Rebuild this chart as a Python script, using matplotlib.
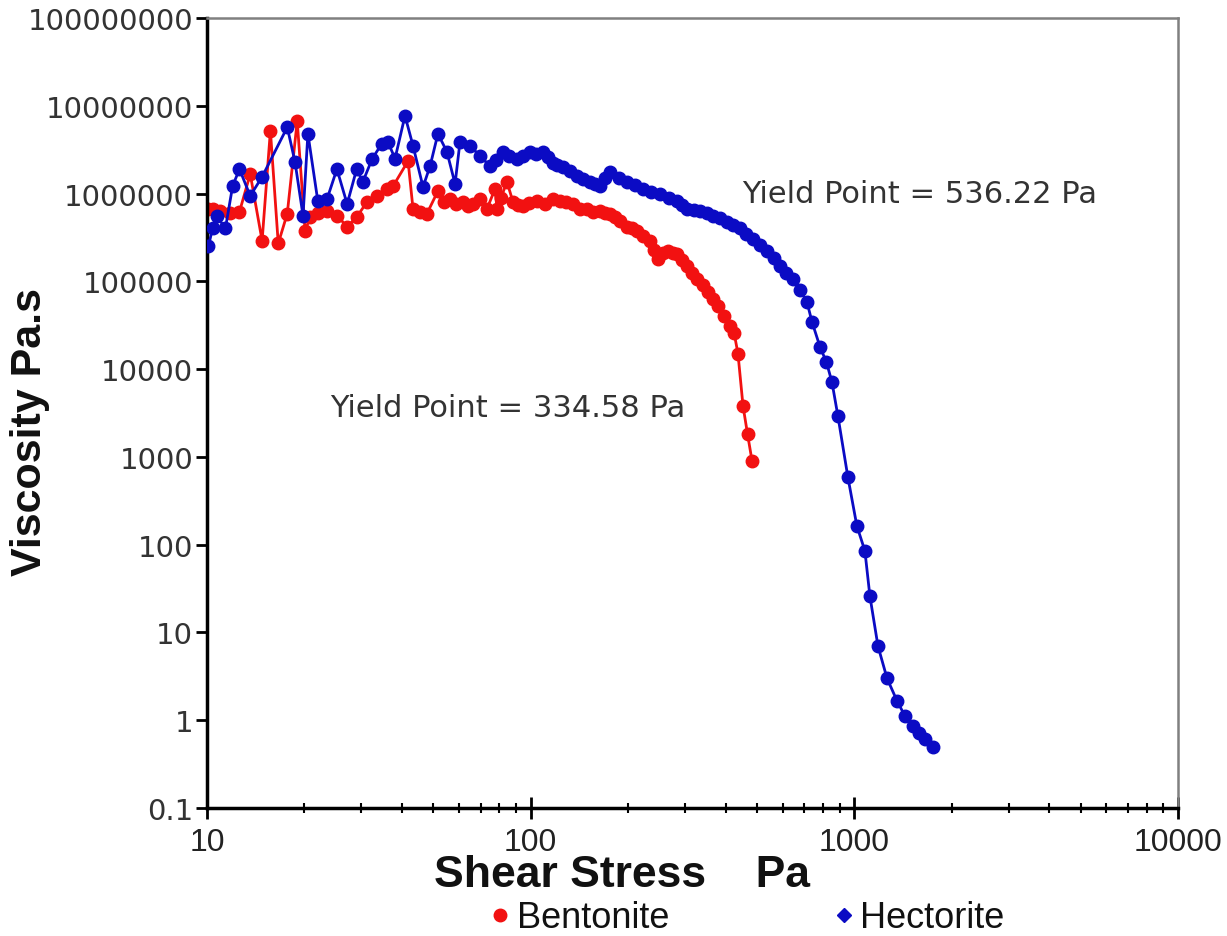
import matplotlib
matplotlib.use('Agg')
import matplotlib.pyplot as plt
from matplotlib.lines import Line2D
from matplotlib.ticker import FixedLocator, LogLocator, NullFormatter, NullLocator

# Bentonite, shear stress (Pa) and viscosity (Pa.s)
bent_x = [10.1, 10.4, 11.0, 11.8, 12.6, 13.6, 14.8, 15.7, 16.6, 17.7, 19.0, 20.1, 20.8,
          22.0, 23.5, 25.2, 27.1, 29.0, 31.2, 33.5, 36.0, 37.6, 41.8, 43.3, 45.5, 47.8, 51.7,
          54.0, 56.3, 59.0, 61.8, 64.0, 66.3, 69.7, 73.3, 77.6, 78.7, 81.0, 84.5, 88.2, 91.5,
          94.7, 99.0, 104.5, 111, 117, 123, 129, 135, 142, 149, 156, 164, 170, 176, 182,
          189, 199, 206, 213, 222, 234, 241, 247, 257, 266, 275, 283, 293, 304, 315, 327,
          340, 353, 366, 379, 395, 413, 425, 437, 453, 468, 483]
bent_y = [6.7e5, 6.7e5, 6.3e5, 6.0e5, 6.2e5, 1.67e6, 2.9e5, 5.2e6, 2.7e5, 5.9e5, 6.7e6, 3.7e5, 5.4e5,
          6.0e5, 6.3e5, 5.6e5, 4.2e5, 5.4e5, 8.0e5, 9.4e5, 1.13e6, 1.22e6, 2.35e6, 6.7e5, 6.2e5, 5.9e5, 1.07e6,
          8.0e5, 8.7e5, 7.6e5, 8.0e5, 7.3e5, 7.6e5, 8.7e5, 6.7e5, 1.13e6, 6.7e5, 9.0e5, 1.36e6, 8.0e5, 7.5e5,
          7.2e5, 7.8e5, 8.2e5, 7.6e5, 8.7e5, 8.2e5, 8.0e5, 7.6e5, 6.7e5, 6.7e5, 6.2e5, 6.3e5, 6.0e5, 5.9e5, 5.4e5,
          4.9e5, 4.2e5, 4.0e5, 3.7e5, 3.3e5, 2.9e5, 2.3e5, 1.8e5, 2.1e5, 2.2e5, 2.1e5, 2.05e5, 1.75e5, 1.5e5, 1.25e5, 1.06e5,
          9.0e4, 7.6e4, 6.3e4, 5.2e4, 4.0e4, 3.1e4, 2.6e4, 1.5e4, 3.8e3, 1.8e3, 900]

# Hectorite
hect_x = [10.1, 10.4, 10.7, 11.4, 12.0, 12.6, 13.6, 14.8, 17.7, 18.7, 19.8, 20.5,
          22.0, 23.5, 25.2, 27.1, 29.0, 30.3, 32.4, 34.7, 36.2, 38.1, 40.9, 43.3,
          46.5, 48.9, 51.7, 55.1, 58.4, 60.5, 64.9, 69.7, 74.8, 78.0, 82.1, 86.0, 90.8, 95.0,
          99.5, 104, 109, 113, 117, 121, 126, 132, 139, 145, 152, 158, 164, 170, 176, 187,
          198, 210, 222, 236, 251, 267, 283, 294, 304, 319, 334, 350, 366, 385, 404, 423,
          443, 464, 486, 511, 537, 563, 589, 617, 646, 680, 714, 740, 783, 820, 853, 890,
          955, 1018, 1078, 1117, 1183, 1262, 1355, 1433, 1517, 1580, 1652, 1750]
hect_y = [2.5e5, 4.0e5, 5.6e5, 4.0e5, 1.22e6, 1.9e6, 9.4e5, 1.55e6, 5.7e6, 2.3e6, 5.6e5, 4.8e6,
          8.2e5, 8.7e5, 1.9e6, 7.6e5, 1.9e6, 1.36e6, 2.5e6, 3.7e6, 3.9e6, 2.5e6, 7.7e6, 3.5e6,
          1.19e6, 2.06e6, 4.8e6, 3.0e6, 1.29e6, 3.9e6, 3.5e6, 2.7e6, 2.06e6, 2.4e6, 3.0e6, 2.7e6, 2.5e6, 2.7e6,
          3.0e6, 2.8e6, 3.0e6, 2.6e6, 2.2e6, 2.1e6, 2.0e6, 1.8e6, 1.58e6, 1.45e6, 1.36e6, 1.3e6, 1.22e6, 1.5e6, 1.76e6, 1.5e6,
          1.36e6, 1.25e6, 1.13e6, 1.05e6, 9.9e5, 9.0e5, 8.2e5, 7.4e5, 6.7e5, 6.5e5, 6.3e5, 6.0e5, 5.6e5, 5.2e5, 4.75e5, 4.4e5,
          4.0e5, 3.5e5, 3.0e5, 2.6e5, 2.2e5, 1.85e5, 1.5e5, 1.25e5, 1.06e5, 8.0e4, 5.8e4, 3.45e4, 1.8e4, 1.2e4, 7.1e3, 2.9e3,
          590, 164, 85, 26, 7.0, 3.0, 1.66, 1.12, 0.86, 0.72, 0.61, 0.50]

x_ticks = [10, 100, 1000, 10000]
x_ticklabels = ['10', '100', '1000', '10000']
y_ticks = [0.1, 1, 10, 100, 1000, 10000, 100000, 1000000, 10000000, 100000000]
y_ticklabels = ['0.1', '1', '10', '100', '1000', '10000', '100000', '1000000',
                '10000000', '100000000']

RED = '#f21111'
BLUE = '#0b0bc4'
narrow = ['Liberation Sans Narrow', 'Liberation Sans', 'DejaVu Sans']
wide = ['DejaVu Sans']

fig = plt.figure(figsize=(12.27, 9.37), dpi=100)
ax = fig.add_axes([207/1227, 1 - 809/937, (1178-207)/1227, (809-19)/937])

ax.plot(bent_x, bent_y, '-o', color=RED, lw=2, ms=9, zorder=2)
ax.plot(hect_x, hect_y, '-o', color=BLUE, lw=2, ms=9, zorder=3)

ax.set_xscale('log')
ax.set_yscale('log')
ax.set_xlim(10, 10000)
ax.set_ylim(0.1, 1e8)

ax.xaxis.set_major_locator(FixedLocator(x_ticks))
ax.set_xticklabels(x_ticklabels, family=narrow, fontsize=23, color='#222222')
ax.xaxis.set_minor_locator(LogLocator(base=10, subs=range(2, 10)))
ax.xaxis.set_minor_formatter(NullFormatter())
ax.yaxis.set_major_locator(FixedLocator(y_ticks))
ax.set_yticklabels(y_ticklabels, family=wide, fontsize=21, color='#333333')
ax.yaxis.set_minor_locator(NullLocator())

ax.tick_params(axis='x', which='major', direction='inout', length=16, width=2, pad=6)
ax.tick_params(axis='x', which='minor', direction='inout', length=7, width=1.5)
ax.tick_params(axis='y', which='major', direction='out', length=8, width=2, pad=2)

for s in ['left', 'bottom']:
    ax.spines[s].set_linewidth(2.5)
    ax.spines[s].set_color('black')
for s in ['top', 'right']:
    ax.spines[s].set_linewidth(1.8)
    ax.spines[s].set_color('#808080')

ax.text(450, 1.0e6, 'Yield Point = 536.22 Pa', family=wide, fontsize=22,
        color='#333333', va='center', ha='left')
ax.text(24, 3.7e3, 'Yield Point = 334.58 Pa', family=wide, fontsize=22,
        color='#333333', va='center', ha='left')

fig.text(622/1227, 1 - 876/937, 'Shear Stress    Pa', family=narrow, fontsize=32,
         fontweight='bold', color='#111111', ha='center', va='center')
fig.text(30/1227, 1 - 432/937, 'Viscosity Pa.s', family=narrow, fontsize=31,
         fontweight='bold', color='#111111', ha='center', va='center', rotation=90)

handles = [Line2D([], [], ls='none', marker='o', color=RED, ms=9),
           Line2D([], [], ls='none', marker='D', color=BLUE, ms=7)]
leg = fig.legend(handles, ['Bentonite', 'Hectorite'], loc='center',
                 bbox_to_anchor=(748/1227, 1 - 919/937), ncol=2, frameon=False,
                 handlelength=0.5, handletextpad=0.2, columnspacing=4.6,
                 borderpad=0, prop={'family': narrow, 'size': 26})
for t in leg.get_texts():
    t.set_color('#111111')

fig.savefig('out.png', dpi=100)
